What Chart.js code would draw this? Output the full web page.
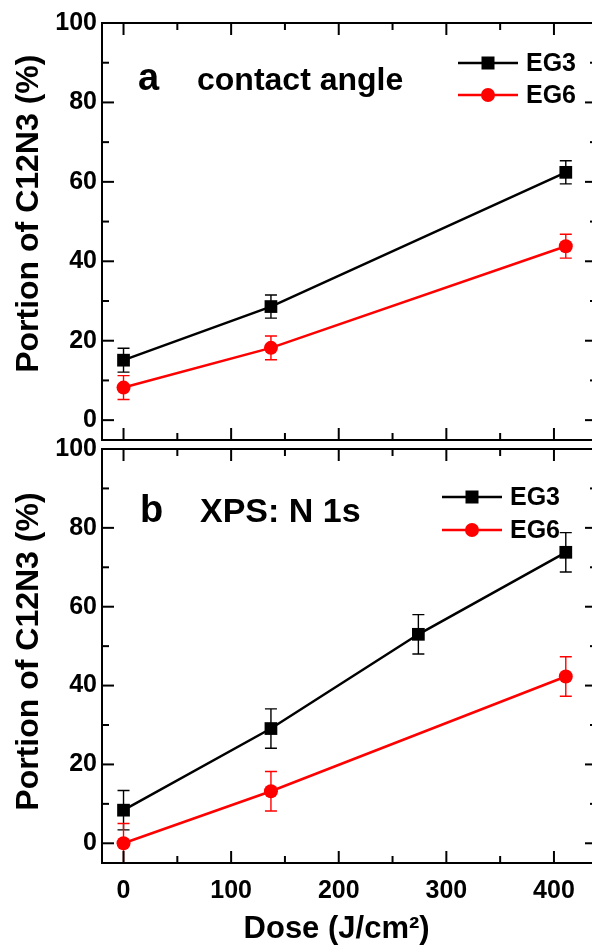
<!DOCTYPE html>
<html>
<head>
<meta charset="utf-8">
<script src="https://cdn.jsdelivr.net/npm/chart.js@4.4.0/dist/chart.umd.min.js"></script>
<style>
  html, body { margin: 0; padding: 0; background: #fff; overflow: hidden; width: 592px; }
  #wrap { position: relative; width: 592px; height: 949px; overflow: hidden; }
  #wrap canvas { position: absolute; left: 0; }
  #chart-a { top: 0; }
  #chart-b { top: 420px; }
</style>
</head>
<body>
<div id="wrap">
  <canvas id="chart-a" width="600" height="444"></canvas>
  <canvas id="chart-b" width="600" height="529"></canvas>
</div>
<script>
// panel a: contact angle
const doseA = [0, 137, 411];
const eg3A = [15.1, 28.6, 62.4];
const eg3AErr = [3.0, 2.9, 2.9];
const eg6A = [8.2, 18.2, 43.8];
const eg6AErr = [3.0, 3.0, 3.0];

// panel b: XPS N 1s
const doseB3 = [0, 137, 274, 411];
const eg3B = [8.4, 29.1, 53.0, 73.8];
const eg3BErr = [5.0, 5.0, 5.0, 5.0];
const doseB6 = [0, 137, 411];
const eg6B = [0, 13.2, 42.3];
const eg6BErr = [5.0, 5.0, 5.0];

// axis ticks
const xMajor = [0, 100, 200, 300, 400];
const xMinor = [50, 150, 250, 350];
const yMajor = [0, 20, 40, 60, 80, 100];
const yMinor = [10, 30, 50, 70, 90];

const FONT = '"Liberation Sans", Arial, sans-serif';

const toPoints = (xs, ys) => xs.map((x, i) => ({ x: x, y: ys[i] }));

// frame round the plot with inward ticks on all four sides
const frameTicks = {
  id: "frameTicks",
  afterDraw(chart) {
    const { ctx, chartArea: a, scales: { x, y } } = chart;
    ctx.save();
    ctx.strokeStyle = "#000";
    ctx.lineWidth = 2;
    ctx.strokeRect(a.left, a.top, a.right - a.left, a.bottom - a.top);
    const seg = (x1, y1, x2, y2) => {
      ctx.beginPath();
      ctx.moveTo(x1, y1);
      ctx.lineTo(x2, y2);
      ctx.stroke();
    };
    const xt = (vals, len) => vals.forEach((v) => {
      const px = x.getPixelForValue(v);
      seg(px, a.bottom, px, a.bottom - len);
      seg(px, a.top, px, a.top + len);
    });
    const yt = (vals, len) => vals.forEach((v) => {
      const py = y.getPixelForValue(v);
      seg(a.left, py, a.left + len, py);
      seg(a.right, py, a.right - len, py);
    });
    xt(xMajor, 12);
    xt(xMinor, 7);
    yt(yMajor, 12);
    yt(yMinor, 7);
    ctx.restore();
  },
};

// vertical error bars with caps, under the markers
const errorBars = {
  id: "errorBars",
  beforeDatasetsDraw(chart) {
    const { ctx, chartArea: a, scales: { y } } = chart;
    ctx.save();
    ctx.beginPath();
    ctx.rect(a.left, a.top, a.right - a.left, a.bottom - a.top);
    ctx.clip();
    chart.data.datasets.forEach((ds, i) => {
      if (!ds.errors) return;
      ctx.strokeStyle = ds.borderColor;
      ctx.lineWidth = 1.4;
      chart.getDatasetMeta(i).data.forEach((pt, j) => {
        const v = ds.data[j].y;
        const e = ds.errors[j];
        const hi = y.getPixelForValue(v + e);
        const lo = y.getPixelForValue(v - e);
        ctx.beginPath();
        ctx.moveTo(pt.x, hi); ctx.lineTo(pt.x, lo);
        ctx.moveTo(pt.x - 6, hi); ctx.lineTo(pt.x + 6, hi);
        ctx.moveTo(pt.x - 6, lo); ctx.lineTo(pt.x + 6, lo);
        ctx.stroke();
      });
    });
    ctx.restore();
  },
};

// panel letter, panel label and the line+marker legend
const panelText = {
  id: "panelText",
  afterDraw(chart, args, o) {
    const { ctx, chartArea: a } = chart;
    ctx.save();
    ctx.fillStyle = "#000";
    ctx.textBaseline = "alphabetic";
    ctx.font = "bold 38px " + FONT;
    ctx.fillText(o.letter, a.left + o.letterX, a.top + o.baseY);
    ctx.font = "bold " + o.labelSize + "px " + FONT;
    ctx.fillText(o.label, a.left + o.labelX, a.top + o.baseY);

    const lx = a.right - o.legendRight;
    ctx.font = "bold 25px " + FONT;
    ctx.textBaseline = "middle";
    chart.data.datasets.forEach((ds, i) => {
      const ry = a.top + o.rows[i];
      ctx.strokeStyle = ds.borderColor;
      ctx.fillStyle = ds.backgroundColor;
      ctx.lineWidth = 2.5;
      ctx.beginPath();
      ctx.moveTo(lx, ry);
      ctx.lineTo(lx + 60, ry);
      ctx.stroke();
      ctx.beginPath();
      if (ds.pointStyle === "rect") {
        ctx.rect(lx + 30 - 6.5, ry - 6.5, 13, 13);
      } else {
        ctx.arc(lx + 30, ry, 7, 0, Math.PI * 2);
      }
      ctx.fill();
      ctx.fillStyle = "#000";
      ctx.fillText(ds.label, lx + 68, ry + 1);
    });
    ctx.restore();
  },
};

function series(label, color, style, radius, pts, errs) {
  return {
    label: label,
    data: pts,
    errors: errs,
    showLine: true,
    borderColor: color,
    backgroundColor: color,
    borderWidth: 2.5,
    pointStyle: style,
    pointRadius: radius,
    pointBorderWidth: 0,
    tension: 0,
  };
}

// pin the plot box: fixed axis sizes, no label overhang padding
function pinAxis(size, horizontal) {
  return (scale) => {
    if (horizontal) scale.height = size;
    else scale.width = size;
    scale.paddingTop = 0;
    scale.paddingBottom = 0;
    scale.paddingLeft = 0;
    scale.paddingRight = 0;
  };
}

function makeOptions(bottomPanel, yTitle, text) {
  return {
    responsive: false,
    animation: false,
    events: [],
    layout: {
      autoPadding: false,
      padding: { top: bottomPanel ? 29 : 23, right: 3, left: 0, bottom: 0 },
    },
    plugins: {
      legend: { display: false },
      tooltip: { enabled: false },
      panelText: text,
    },
    scales: {
      x: {
        type: "linear",
        min: -20,
        max: 440,
        grid: { display: false, drawTicks: false },
        border: { display: false },
        ticks: {
          display: bottomPanel,
          stepSize: 100,
          includeBounds: false,
          padding: 13,
          color: "#000",
          font: { family: FONT, size: 25, weight: "bold" },
        },
        title: {
          display: bottomPanel,
          text: "Dose (J/cm²)   ",
          color: "#000",
          padding: { top: 0, bottom: 1 },
          font: { family: FONT, size: 31, weight: "bold" },
        },
        afterFit: pinAxis(bottomPanel ? 86 : 4, true),
      },
      y: {
        min: -5,
        max: 100,
        grid: { display: false, drawTicks: false },
        border: { display: false },
        ticks: {
          stepSize: 20,
          includeBounds: false,
          padding: 5,
          color: "#000",
          font: { family: FONT, size: 25, weight: "bold" },
        },
        title: {
          display: true,
          text: yTitle,
          color: "#000",
          padding: { top: 10, bottom: 0 },
          font: { family: FONT, size: 32, weight: "bold" },
        },
        afterFit: pinAxis(102, false),
      },
    },
  };
}

new Chart(document.getElementById("chart-a"), {
  type: "scatter",
  data: {
    datasets: [
      series("EG3", "#000000", "rect", 9, toPoints(doseA, eg3A), eg3AErr),
      series("EG6", "#ff0000", "circle", 7, toPoints(doseA, eg6A), eg6AErr),
    ],
  },
  options: makeOptions(false, "    Portion of C12N3 (%)", {
    letter: "a", letterX: 36, label: "contact angle", labelX: 95, labelSize: 32, baseY: 67,
    legendRight: 139, rows: [40, 72],
  }),
  plugins: [errorBars, frameTicks, panelText],
});

new Chart(document.getElementById("chart-b"), {
  type: "scatter",
  data: {
    datasets: [
      series("EG3", "#000000", "rect", 9, toPoints(doseB3, eg3B), eg3BErr),
      series("EG6", "#ff0000", "circle", 7, toPoints(doseB6, eg6B), eg6BErr),
    ],
  },
  options: makeOptions(true, " Portion of C12N3 (%)", {
    letter: "b", letterX: 38, label: "XPS: N 1s", labelX: 98, labelSize: 34, baseY: 73,
    legendRight: 155, rows: [48, 81],
  }),
  plugins: [errorBars, frameTicks, panelText],
});
</script>
</body>
</html>
